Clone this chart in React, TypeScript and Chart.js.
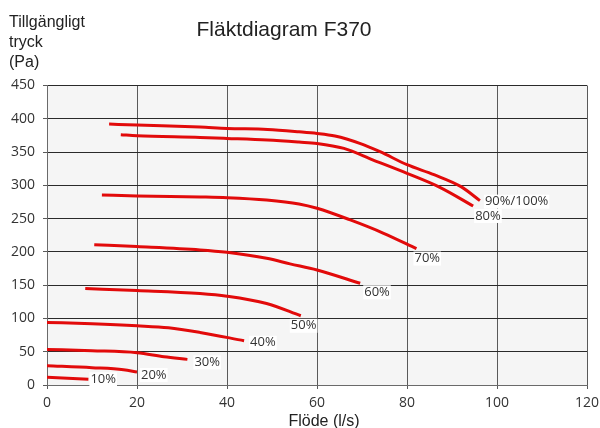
import React, { useEffect, useRef } from "react";
import { Chart, registerables } from "chart.js";

Chart.register(...registerables);

// ---- Data ----
const chartTitle = "Fläktdiagram F370";
const yTitleLines = ["Tillgängligt", "tryck", "(Pa)"];
const xTitle = "Flöde (l/s)";

const xTicks = [0, 20, 40, 60, 80, 100, 120];
const yTicks = [0, 50, 100, 150, 200, 250, 300, 350, 400, 450];

const seriesLabels = ["90%/100%", "80%", "70%", "60%", "50%", "40%", "30%", "20%", "10%"];

const flow90 = [13.8, 20, 34, 40, 49, 56, 60, 64, 69.5, 74, 80, 86, 92, 96.2];
const pres90 = [392, 390.5, 387.5, 385.5, 384, 380.5, 378, 374, 363, 350.5, 331, 316, 298, 277];

const flow80 = [16.4, 20, 34, 40, 49, 56, 60, 66, 72.5, 80, 87.3, 94.7];
const pres80 = [376, 374.5, 372, 370.5, 368, 365, 363, 355.5, 338, 318, 297, 269];

const flow70 = [12.2, 20, 34, 40, 48.8, 56, 60, 67.4, 74.8, 82.1];
const pres70 = [285.5, 284, 282.5, 281.5, 278, 272, 265.5, 248, 228, 205];

const flow60 = [10.5, 20, 34, 40, 48.8, 54, 60, 69.6];
const pres60 = [210.8, 208, 203, 199.3, 190.3, 182, 172.8, 152.8];

const flow50 = [8.5, 20, 34, 40, 48.8, 56.4];
const pres50 = [145, 142, 137.5, 133.5, 122.5, 104];

const flow40 = [0, 10, 20, 27, 34, 43.8];
const pres40 = [94, 92, 89, 86, 79, 66.5];

const flow30 = [0, 10, 20, 26, 31.2];
const pres30 = [53.5, 51.5, 48.5, 42.5, 38.5];

const flow20 = [0, 10, 17, 20];
const pres20 = [29, 26, 23, 19.5];

const flow10 = [0, 9.2];
const pres10 = [11.5, 8.5];

const flows = [flow90, flow80, flow70, flow60, flow50, flow40, flow30, flow20, flow10];
const pressures = [pres90, pres80, pres70, pres60, pres50, pres40, pres30, pres20, pres10];

// label offsets (px) from each curve's end point: [dx to text left, dy to text middle]
const labelOffsets = [
  [5, 1],
  [2, 10],
  [-2, 10],
  [4, 9],
  [-10, 10],
  [6, 2],
  [7, 3],
  [4, 3],
  [2, 0],
];

const RED = "#e20a0a";
const TEXT = "#333333";
const TICK_FONT = "'Open Sans'";
const TITLE_FONT = "'Liberation Sans', Arial, sans-serif";

const decorPlugin = {
  id: "decor",
  beforeDraw(chart: any) {
    const { ctx, chartArea } = chart;
    ctx.save();
    ctx.fillStyle = "#ffffff";
    ctx.fillRect(0, 0, chart.width, chart.height);
    ctx.fillStyle = "#f5f5f5";
    ctx.fillRect(chartArea.left, chartArea.top, chartArea.right - chartArea.left, chartArea.bottom - chartArea.top);
    ctx.restore();
  },
  afterDraw(chart: any) {
    const { ctx, chartArea } = chart;
    const xs = chart.scales.x;
    const ys = chart.scales.y;
    ctx.save();
    // main title
    ctx.fillStyle = "#222222";
    ctx.font = `21px ${TITLE_FONT}`;
    ctx.textAlign = "center";
    ctx.textBaseline = "alphabetic";
    ctx.fillText(chartTitle, 284, 36);
    // y axis title
    ctx.font = `16px ${TITLE_FONT}`;
    ctx.textAlign = "left";
    yTitleLines.forEach((t, i) => ctx.fillText(t, 9, 26.5 + i * 20));
    // x axis title
    ctx.textAlign = "center";
    ctx.fillText(xTitle, (chartArea.left + chartArea.right) / 2 + 7, 426);
    // curve labels
    ctx.font = `13px ${TICK_FONT}`;
    ctx.textAlign = "left";
    ctx.textBaseline = "middle";
    seriesLabels.forEach((lbl, i) => {
      const f = flows[i];
      const p = pressures[i];
      const px = xs.getPixelForValue(f[f.length - 1]) + labelOffsets[i][0];
      const py = ys.getPixelForValue(p[p.length - 1]) + labelOffsets[i][1];
      const w = ctx.measureText(lbl).width;
      ctx.fillStyle = "#ffffff";
      ctx.fillRect(px - 1, py - 7, w + 2, 14);
      ctx.fillStyle = TEXT;
      ctx.fillText(lbl, px, py);
    });
    ctx.restore();
  },
};

export default function App() {
  const canvasRef = useRef<HTMLCanvasElement | null>(null);

  useEffect(() => {
    const prevMargin = document.body.style.margin;
    document.body.style.margin = "0";
    const canvas = canvasRef.current;
    if (!canvas) return;
    const datasets = seriesLabels.map((lbl, i) => ({
      label: lbl,
      data: flows[i].map((x, j) => ({ x, y: pressures[i][j] })),
      borderColor: RED,
      backgroundColor: RED,
      borderWidth: 3,
      pointRadius: 0,
      fill: false,
      cubicInterpolationMode: "monotone" as const,
      borderCapStyle: "butt" as const,
    }));
    const chart = new Chart(canvas, {
      type: "line",
      data: { datasets },
      plugins: [decorPlugin],
      options: {
        animation: false,
        responsive: false,
        maintainAspectRatio: false,
        layout: { padding: { top: 85.5, right: 13, left: 0, bottom: 0 } },
        plugins: {
          legend: { display: false },
          tooltip: { enabled: false },
          title: { display: false },
        },
        scales: {
          x: {
            type: "linear",
            min: 0,
            max: 120,
            afterBuildTicks: (scale: any) => {
              scale.ticks = xTicks.map((v) => ({ value: v }));
            },
            afterFit: (scale: any) => {
              scale.height = 43;
              scale.paddingLeft = 0;
              scale.paddingRight = 0;
              scale.paddingTop = 0;
              scale.paddingBottom = 0;
            },
            ticks: {
              color: TEXT,
              font: { family: TICK_FONT, size: 14 },
              padding: 6,
              maxRotation: 0,
            },
            grid: { color: "#5a5a5a", lineWidth: 1, tickLength: 4, tickColor: "#5a5a5a" },
            border: { color: "#6a6a6a", width: 1 },
          },
          y: {
            type: "linear",
            min: 0,
            max: 450,
            afterBuildTicks: (scale: any) => {
              scale.ticks = yTicks.map((v) => ({ value: v }));
            },
            afterFit: (scale: any) => {
              scale.width = 47;
              scale.paddingLeft = 0;
              scale.paddingRight = 0;
              scale.paddingTop = 0;
              scale.paddingBottom = 0;
            },
            ticks: {
              color: TEXT,
              font: { family: TICK_FONT, size: 14 },
              padding: 8,
            },
            grid: { color: "#2a2a2a", lineWidth: 1, tickLength: 4, tickColor: "#5a5a5a" },
            border: { color: "#6a6a6a", width: 1 },
          },
        },
      },
    });
    return () => {
      chart.destroy();
      document.body.style.margin = prevMargin;
    };
  }, []);

  return (
    <div style={{ position: "absolute", left: 0, top: 0, width: 600, height: 428 }}>
      <canvas ref={canvasRef} width={600} height={428} style={{ display: "block", width: 600, height: 428 }} />
    </div>
  );
}
